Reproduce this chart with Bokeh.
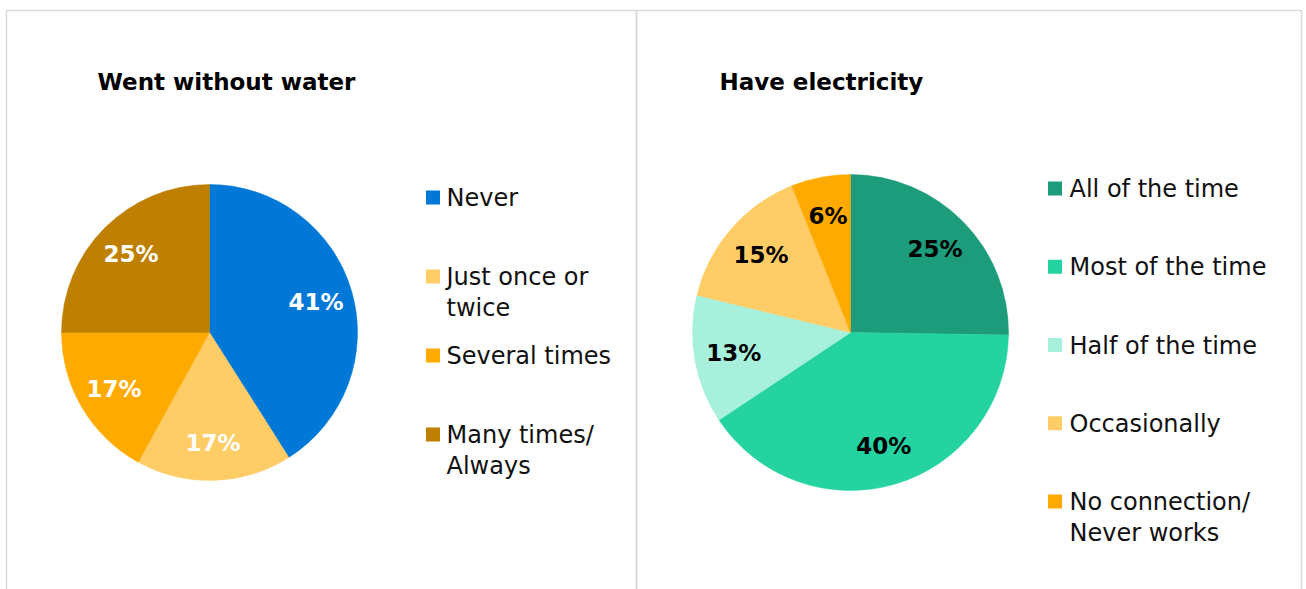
import math
from bokeh.plotting import figure
from bokeh.models import Range1d, ColumnDataSource
from bokeh.core.properties import value
from bokeh.embed import file_html
from bokeh.resources import INLINE

# ---- data ----
water_title = "Went without water"
water_categories = ["Never", "Just once or twice", "Several times", "Many times/ Always"]
water_legend = ["Never", "Just once or\ntwice", "Several times", "Many times/\nAlways"]
water_values = [41, 17, 17, 25]
water_colors = ["#0078D7", "#FFCC66", "#FFAA00", "#BF7F00"]

elec_title = "Have electricity"
elec_categories = ["All of the time", "Most of the time", "Half of the time", "Occasionally",
                   "No connection/ Never works"]
elec_legend = ["All of the time", "Most of the time", "Half of the time", "Occasionally",
               "No connection/\nNever works"]
elec_values = [25, 40, 13, 15, 6]
elec_colors = ["#1C9C7A", "#24D3A0", "#A6F0DC", "#FFCC66", "#FFAA00"]

W, H = 1306, 589
FONT = "DejaVu Sans"

p = figure(width=W, height=H, x_range=Range1d(0, W), y_range=Range1d(0, H),
           output_backend="svg", toolbar_location=None,
           x_axis_location=None, y_axis_location=None, min_border=0)
p.grid.visible = False
p.outline_line_color = None
p.background_fill_color = "white"
p.border_fill_color = "white"


def Y(ypix):
    return H - ypix


# panel frames
p.quad(left=[6, 636], right=[636, 1301], top=[Y(10), Y(10)], bottom=[-20, -20],
       fill_color=None, line_color="#D9D9D9", line_width=1.5)


def draw_pie(cx, cy, R, values, colors, label_color):
    total = float(sum(values))
    cum = 0.0
    starts, ends, lx, ly, labels = [], [], [], [], []
    for v in values:
        f0 = cum / total
        f1 = (cum + v) / total
        cum += v
        starts.append(math.pi / 2 - 2 * math.pi * f1)
        ends.append(math.pi / 2 - 2 * math.pi * f0)
        mid = math.pi / 2 - 2 * math.pi * (f0 + f1) / 2
        lx.append(cx + 0.75 * R * math.cos(mid))
        ly.append(cy + 0.75 * R * math.sin(mid))
        labels.append(f"{v}%")
    src = ColumnDataSource(dict(start=starts, end=ends, color=colors))
    p.wedge(x=cx, y=cy, radius=R, start_angle="start", end_angle="end",
            fill_color="color", line_color="color", line_width=0.5, source=src)
    p.text(x=lx, y=ly, text=labels, text_color=label_color, text_font=value(FONT),
           text_font_style="bold", text_font_size="23px", text_align="center",
           text_baseline="middle")


def draw_legend(x_sq, x_txt, y0, step, labels, colors):
    ys = [Y(y0 + i * step) for i in range(len(labels))]
    p.rect(x=[x_sq] * len(labels), y=ys, width=14, height=14, fill_color=colors,
           line_color=None)
    p.text(x=[x_txt] * len(labels), y=[y + 13.5 for y in ys], text=labels, text_color="#111111",
           text_font=value(FONT), text_font_size="24px", text_align="left",
           text_baseline="top", text_line_height=1.12)


draw_pie(209, Y(332), 148, water_values, water_colors, "white")
draw_pie(850, Y(332), 158, elec_values, elec_colors, "black")

draw_legend(432.5, 446, 197, 79, water_legend, water_colors)
draw_legend(1054.5, 1069, 188, 78.25, elec_legend, elec_colors)

p.text(x=[97, 719], y=[Y(81), Y(81)], text=[water_title, elec_title], text_color="black",
       text_font=value(FONT), text_font_style="bold", text_font_size="23px",
       text_align="left", text_baseline="middle")

open("out.html", "w").write(file_html(p, INLINE))
